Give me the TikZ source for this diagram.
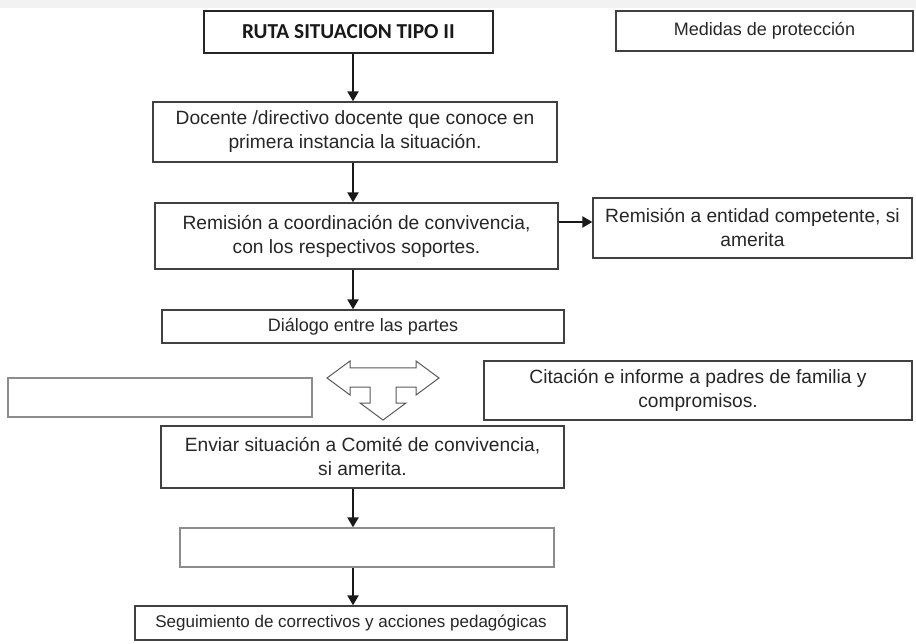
\documentclass[tikz,border=0pt]{standalone}
\usepackage{fontspec}
\setmainfont{Liberation Sans}
\newfontfamily\rutafont{Carlito}
\usetikzlibrary{arrows.meta,calc,positioning}

\begin{document}
\begin{tikzpicture}[x=1pt,y=-1pt,
  caja/.style={draw=black!75, line width=1.3pt, align=center, inner sep=0pt, text=black!85, font=\fontsize{19.2}{24}\selectfont},
  chica/.style={caja, font=\fontsize{18}{24}\selectfont},
  vacia/.style={draw=black!45, line width=1.3pt, inner sep=0pt},
  titulo/.style={caja, draw=black!85, line width=1.7pt, text=black!90, font=\rutafont\bfseries\fontsize{21.3}{24}\selectfont},
  flecha/.style={-{Triangle[width=11pt,length=10pt]}, line width=2.2pt, black!90}
]
\useasboundingbox (0,0) rectangle (916,644);
\fill[black!5] (0,0) rectangle (916,8);

\node[titulo, minimum width=289pt, minimum height=42pt] (ruta) at (348.5,32) {RUTA SITUACION TIPO II};
\node[chica, minimum width=297pt, minimum height=40pt] (medidas) at (764.5,31) {Medidas de protección};
\node[caja, minimum width=404pt, minimum height=60pt] (docente) at (355,132) {Docente /directivo docente que conoce en\\primera instancia la situación.};
\node[caja, minimum width=403pt, minimum height=66pt] (remision) at (356.5,236) {Remisión a coordinación de convivencia,\\con los respectivos soportes.};
\node[caja, minimum width=319pt, minimum height=60pt] (entidad) at (752.5,228) {Remisión a entidad competente, si\\amerita};
\node[chica, minimum width=402pt, minimum height=33pt] (dialogo) at (363,326.5) {Diálogo entre las partes};
\node[vacia, minimum width=304pt, minimum height=39pt] (vacio1) at (160,397.5) {};
\node[caja, minimum width=428pt, minimum height=59pt] (citacion) at (698,390.5) {Citación e informe a padres de familia y\\compromisos.};
\node[caja, minimum width=403pt, minimum height=62pt] (enviar) at (362.5,457) {Enviar situación a Comité de convivencia,\\si amerita.};
\node[vacia, minimum width=374pt, minimum height=39pt] (vacio2) at (367,547.5) {};
\node[caja, font=\fontsize{17}{24}\selectfont, minimum width=432pt, minimum height=34pt] (seguimiento) at (351,623) {Seguimiento de correctivos y acciones pedagógicas};

\coordinate (eje) at (353,0);
\coordinate (nivel) at (0,222);

\draw[flecha] (ruta.south -| eje) -- (docente.north -| eje);
\draw[flecha] (docente.south -| eje) -- (remision.north -| eje);
\draw[flecha] (remision.east |- nivel) -- (entidad.west |- nivel);
\draw[flecha] (remision.south -| eje) -- (dialogo.north -| eje);
\draw[flecha] (enviar.south -| eje) -- (vacio2.north -| eje);
\draw[flecha] (vacio2.south -| eje) -- (seguimiento.north -| eje);

% flecha de tres puntas
\draw[black!65, line width=1pt, fill=white, line join=miter]
  (327,378) -- (350,361) -- (350,368) -- (416,368) -- (416,361) -- (439,378)
  -- (416,395) -- (416,387) -- (396,387) -- (396,403) -- (406,403) -- (383,420)
  -- (360,403) -- (370,403) -- (370,387) -- (350,387) -- (350,395) -- cycle;
\end{tikzpicture}
\end{document}
